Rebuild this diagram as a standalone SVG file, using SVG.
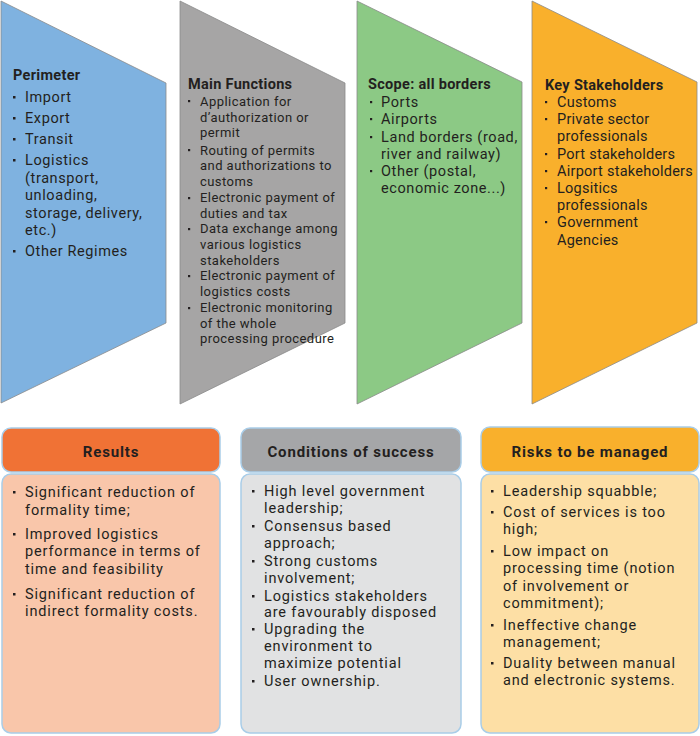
<svg xmlns="http://www.w3.org/2000/svg" width="700" height="736" viewBox="0 0 700 736">
<style>
.t{font-family:Roboto,"Liberation Sans",sans-serif;fill:#231f20;}
.b{font-weight:bold;}
.s1{font-size:14.5px;letter-spacing:0.6px;}
.s2{font-size:13px;letter-spacing:0.45px;}
.s3{font-size:14.5px;letter-spacing:0.85px;}
.h{font-size:15px;font-weight:bold;text-anchor:middle;letter-spacing:0.85px;}
.bt{letter-spacing:0.3px;}
.ks{letter-spacing:0.25px;}
.sh{stroke:#8a8a8a;stroke-width:0.8;}
.bx{stroke:#a9cde8;stroke-width:1.5;}
</style>
<rect width="700" height="736" fill="#ffffff"/>
<g id="perimeter">
<polygon class="sh" points="1,1 166,83 166,323 1,403" fill="#7fb2e0"/>
<text class="t b s1 bt" x="13" y="80">Perimeter</text>
<g fill="#231f20"><rect x="13" y="96" width="2.5" height="2.5"/><rect x="13" y="117" width="2.5" height="2.5"/><rect x="13" y="138" width="2.5" height="2.5"/><rect x="13" y="159" width="2.5" height="2.5"/><rect x="13" y="250" width="2.5" height="2.5"/></g>
<text class="t s1" x="25" y="102">Import</text>
<text class="t s1" x="25" y="123">Export</text>
<text class="t s1" x="25" y="144">Transit</text>
<text class="t s1" x="25" y="165">Logistics</text>
<text class="t s1" x="25" y="183">(transport,</text>
<text class="t s1" x="25" y="200">unloading,</text>
<text class="t s1" x="25" y="218">storage, delivery,</text>
<text class="t s1" x="25" y="235">etc.)</text>
<text class="t s1" x="25" y="256">Other Regimes</text>
</g>
<g id="main-functions">
<polygon class="sh" points="180,1 345,83 345,323 180,404" fill="#a6a5a5"/>
<text class="t b s1 bt" x="188" y="89">Main Functions</text>
<g fill="#231f20"><rect x="188" y="100" width="2.2" height="2.2"/><rect x="188" y="149" width="2.2" height="2.2"/><rect x="188" y="197" width="2.2" height="2.2"/><rect x="188" y="228" width="2.2" height="2.2"/><rect x="188" y="275" width="2.2" height="2.2"/><rect x="188" y="307" width="2.2" height="2.2"/></g>
<text class="t s2" x="200" y="106">Application for</text>
<text class="t s2" x="200" y="122">d’authorization or</text>
<text class="t s2" x="200" y="137">permit</text>
<text class="t s2" x="200" y="155">Routing of permits</text>
<text class="t s2" x="200" y="170">and authorizations to</text>
<text class="t s2" x="200" y="186">customs</text>
<text class="t s2" x="200" y="202">Electronic payment of</text>
<text class="t s2" x="200" y="218">duties and tax</text>
<text class="t s2" x="200" y="233">Data exchange among</text>
<text class="t s2" x="200" y="249">various logistics</text>
<text class="t s2" x="200" y="265">stakeholders</text>
<text class="t s2" x="200" y="280">Electronic payment of</text>
<text class="t s2" x="200" y="296">logistics costs</text>
<text class="t s2" x="200" y="312">Electronic monitoring</text>
<text class="t s2" x="200" y="328">of the whole</text>
<text class="t s2" x="200" y="343">processing procedure</text>
</g>
<g id="scope">
<polygon class="sh" points="357,1 522,82 522,323 357,404" fill="#8cc985"/>
<text class="t b s1 bt" x="368" y="89">Scope: all borders</text>
<g fill="#231f20"><rect x="370" y="101" width="2.2" height="2.2"/><rect x="370" y="118" width="2.2" height="2.2"/><rect x="370" y="136" width="2.2" height="2.2"/><rect x="370" y="170" width="2.2" height="2.2"/></g>
<text class="t s1" x="381" y="107">Ports</text>
<text class="t s1" x="381" y="124">Airports</text>
<text class="t s1" x="381" y="142">Land borders (road,</text>
<text class="t s1" x="381" y="159">river and railway)</text>
<text class="t s1" x="381" y="176">Other (postal,</text>
<text class="t s1" x="381" y="193">economic zone...)</text>
</g>
<g id="key-stakeholders">
<polygon class="sh" points="532,1 697,82 697,323 532,404" fill="#f9b02c"/>
<text class="t b s1 bt" x="545" y="90">Key Stakeholders</text>
<g fill="#231f20"><rect x="545" y="101" width="2.2" height="2.2"/><rect x="545" y="118" width="2.2" height="2.2"/><rect x="545" y="153" width="2.2" height="2.2"/><rect x="545" y="170" width="2.2" height="2.2"/><rect x="545" y="187" width="2.2" height="2.2"/><rect x="545" y="221" width="2.2" height="2.2"/></g>
<text class="t s1 ks" x="557" y="107">Customs</text>
<text class="t s1 ks" x="557" y="124">Private sector</text>
<text class="t s1 ks" x="557" y="141">professionals</text>
<text class="t s1 ks" x="557" y="159">Port stakeholders</text>
<text class="t s1 ks" x="557" y="176">Airport stakeholders</text>
<text class="t s1 ks" x="557" y="193">Logsitics</text>
<text class="t s1 ks" x="557" y="210">professionals</text>
<text class="t s1 ks" x="557" y="227">Government</text>
<text class="t s1 ks" x="557" y="245">Agencies</text>
</g>
<g id="results">
<rect class="bx" x="2" y="428" width="218" height="44" rx="9" fill="#f07235"/>
<rect class="bx" x="2" y="474" width="218" height="259" rx="9" fill="#f9c6aa"/>
<text class="t h" x="111" y="457">Results</text>
<g fill="#231f20"><rect x="13" y="491" width="2.5" height="2.5"/><rect x="13" y="533" width="2.5" height="2.5"/><rect x="13" y="593" width="2.5" height="2.5"/></g>
<text class="t s3" x="25" y="497">Significant reduction of</text>
<text class="t s3" x="25" y="515">formality time;</text>
<text class="t s3" x="25" y="539">Improved logistics</text>
<text class="t s3" x="25" y="556">performance in terms of</text>
<text class="t s3" x="25" y="574">time and feasibility</text>
<text class="t s3" x="25" y="599">Significant reduction of</text>
<text class="t s3" x="25" y="616">indirect formality costs.</text>
</g>
<g id="conditions">
<rect class="bx" x="241" y="428" width="220" height="44" rx="9" fill="#a5a6a8"/>
<rect class="bx" x="241" y="474" width="220" height="259" rx="9" fill="#e1e2e3"/>
<text class="t h" x="351" y="457">Conditions of success</text>
<g fill="#231f20"><rect x="252" y="490" width="2.5" height="2.5"/><rect x="252" y="525" width="2.5" height="2.5"/><rect x="252" y="560" width="2.5" height="2.5"/><rect x="252" y="595" width="2.5" height="2.5"/><rect x="252" y="628" width="2.5" height="2.5"/><rect x="252" y="680" width="2.5" height="2.5"/></g>
<text class="t s3" x="264" y="496">High level government</text>
<text class="t s3" x="264" y="513">leadership;</text>
<text class="t s3" x="264" y="531">Consensus based</text>
<text class="t s3" x="264" y="548">approach;</text>
<text class="t s3" x="264" y="566">Strong customs</text>
<text class="t s3" x="264" y="583">involvement;</text>
<text class="t s3" x="264" y="601">Logistics stakeholders</text>
<text class="t s3" x="264" y="617">are favourably disposed</text>
<text class="t s3" x="264" y="634">Upgrading the</text>
<text class="t s3" x="264" y="651">environment to</text>
<text class="t s3" x="264" y="668">maximize potential</text>
<text class="t s3" x="264" y="686">User ownership.</text>
</g>
<g id="risks">
<rect class="bx" x="481" y="427" width="218" height="45" rx="9" fill="#f9b02c"/>
<rect class="bx" x="481" y="474" width="218" height="259" rx="9" fill="#fddfa5"/>
<text class="t h" x="590" y="457">Risks to be managed</text>
<g fill="#231f20"><rect x="491" y="490" width="2.5" height="2.5"/><rect x="491" y="511" width="2.5" height="2.5"/><rect x="491" y="550" width="2.5" height="2.5"/><rect x="491" y="624" width="2.5" height="2.5"/><rect x="491" y="662" width="2.5" height="2.5"/></g>
<text class="t s3" x="503" y="496">Leadership squabble;</text>
<text class="t s3" x="503" y="517">Cost of services is too</text>
<text class="t s3" x="503" y="534">high;</text>
<text class="t s3" x="503" y="556">Low impact on</text>
<text class="t s3" x="503" y="573">processing time (notion</text>
<text class="t s3" x="503" y="591">of involvement or</text>
<text class="t s3" x="503" y="608">commitment);</text>
<text class="t s3" x="503" y="630">Ineffective change</text>
<text class="t s3" x="503" y="647">management;</text>
<text class="t s3" x="503" y="668">Duality between manual</text>
<text class="t s3" x="503" y="685">and electronic systems.</text>
</g>
<g id="connectors"></g>
</svg>
